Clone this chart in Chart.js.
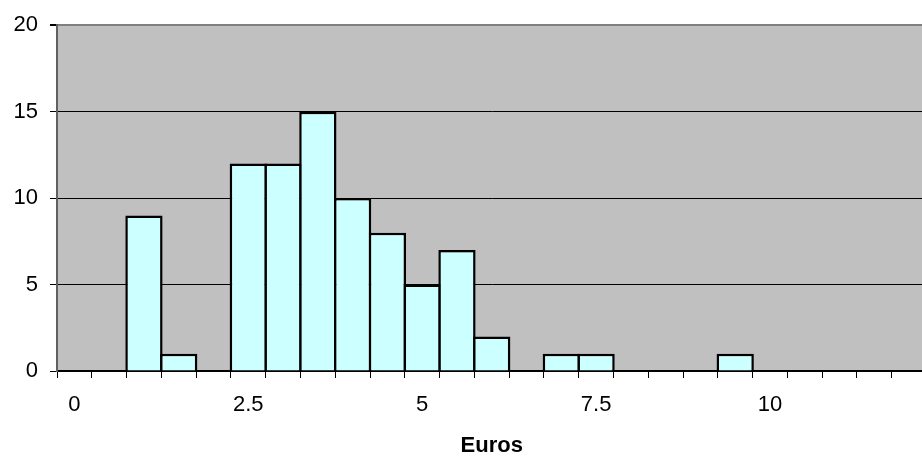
<!DOCTYPE html>
<html>
<head>
<meta charset="utf-8">
<script src="https://cdn.jsdelivr.net/npm/chart.js@4/dist/chart.umd.min.js"></script>
<style>
  html, body { margin: 0; padding: 0; background: #fff; overflow: hidden; }
  #wrap { width: 922px; height: 458px; overflow: hidden; }
</style>
</head>
<body>
<div id="wrap"><canvas id="chart" width="930" height="459"></canvas></div>
<script>
// Histogram bins (euros, width 0.5) and how many fall in each
const bins = ['0', '0.5', '1', '1.5', '2', '2.5', '3', '3.5', '4', '4.5', '5', '5.5', '6',
              '6.5', '7', '7.5', '8', '8.5', '9', '9.5', '10', '10.5', '11', '11.5', '12'];
const counts = [0, 0, 9, 1, 0, 12, 12, 15, 10, 8, 5, 7, 2,
                0, 1, 1, 0, 0, 0, 1, 0, 0, 0, 0, 0];
// Bins that get a printed label under the axis
const xTickLabels = ['0', '2.5', '5', '7.5', '10'];
const yTicks = [0, 5, 10, 15, 20];
const axisTitle = 'Euros';

const FONT = 'Arial, "Liberation Sans", sans-serif';
const BAR_EDGE = 2.5;

// Grey plotting area behind grid and bars
const plotBackground = {
  id: 'plotBackground',
  beforeDraw(chart) {
    const { ctx, chartArea: a } = chart;
    ctx.save();
    ctx.fillStyle = '#C0C0C0';
    ctx.fillRect(a.left, a.top, a.right - a.left, a.bottom - a.top);
    ctx.restore();
  }
};

new Chart(document.getElementById('chart'), {
  type: 'bar',
  data: {
    labels: bins,
    datasets: [{
      data: counts,
      backgroundColor: '#CCFFFF',
      borderColor: '#000000',
      borderWidth: BAR_EDGE,
      borderSkipped: 'start',
      // widen each bar by half an outline per side so neighbours share one edge
      barPercentage: 1 + BAR_EDGE / 34.78,
      categoryPercentage: 1
    }]
  },
  options: {
    responsive: false,
    animation: false,
    devicePixelRatio: 1,
    layout: { padding: { top: 22, right: 3.5, bottom: 0, left: 0 } },
    plugins: {
      legend: { display: false },
      tooltip: { enabled: false }
    },
    scales: {
      x: {
        z: 1,
        offset: true,
        grid: {
          offset: true,
          drawOnChartArea: false,
          drawTicks: true,
          tickLength: 7,
          color: '#000000',
          tickColor: '#000000'
        },
        border: { display: true, color: '#000000', width: 2 },
        ticks: {
          autoSkip: false,
          maxRotation: 0,
          padding: 14,
          color: '#000000',
          font: { family: FONT, size: 22 },
          callback: (v, i) => xTickLabels.includes(bins[i]) ? bins[i] : ''
        },
        title: {
          display: true,
          text: axisTitle,
          color: '#000000',
          padding: { top: 0, bottom: 0 },
          font: { family: FONT, size: 22, weight: 'bold' }
        },
        afterFit: (s) => { s.height = 88; }
      },
      y: {
        min: 0,
        max: 20,
        afterBuildTicks: (s) => { s.ticks = yTicks.map(v => ({ value: v })); },
        grid: {
          drawTicks: true,
          tickLength: 7,
          color: (c) => c.tick && c.tick.value === 20 ? '#808080' : '#000000',
          lineWidth: (c) => c.tick && c.tick.value === 20 ? 2 : 1,
          tickColor: '#000000'
        },
        border: { display: true, color: '#606060', width: 2 },
        ticks: {
          padding: 12,
          color: '#000000',
          font: { family: FONT, size: 22 }
        },
        afterFit: (s) => { s.width = 57; }
      }
    }
  },
  plugins: [plotBackground]
});
</script>
</body>
</html>
